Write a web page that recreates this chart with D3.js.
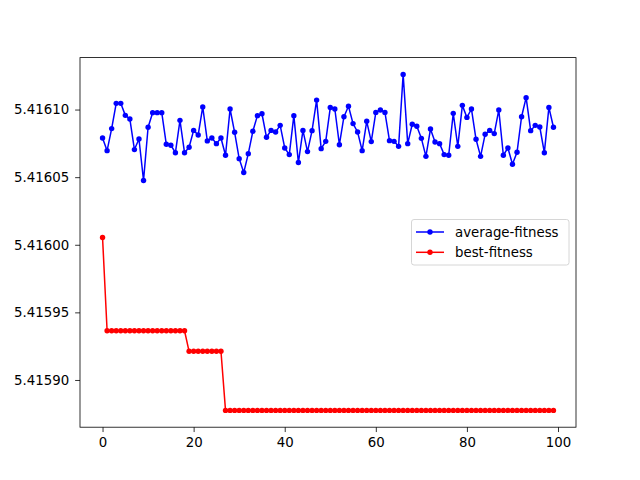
<!DOCTYPE html>
<html><head><meta charset="utf-8">
<script src="https://cdn.jsdelivr.net/npm/d3@7"></script>
<style>body{margin:0;background:#fff}svg{display:block}text{font-family:"DejaVu Sans",sans-serif;}</style>
</head><body>
<script>
const generations = d3.range(100);
const averageFitness = [
5.4160790,5.4160696,5.4160859,5.4161046,5.4161046,5.4160957,5.4160930,5.4160704,5.4160782,5.4160475,
5.4160869,5.4160977,5.4160977,5.4160977,5.4160743,5.4160736,5.4160681,5.4160920,5.4160681,5.4160721,
5.4160846,5.4160812,5.4161019,5.4160768,5.4160790,5.4160748,5.4160790,5.4160662,5.4161004,5.4160832,
5.4160637,5.4160534,5.4160674,5.4160839,5.4160955,5.4160969,5.4160795,5.4160846,5.4160834,5.4160883,
5.4160716,5.4160667,5.4160955,5.4160608,5.4160846,5.4160689,5.4160844,5.4161070,5.4160711,5.4160765,
5.4161015,5.4161004,5.4160740,5.4160947,5.4161024,5.4160896,5.4160834,5.4160696,5.4160913,5.4160763,
5.4160979,5.4160997,5.4160979,5.4160770,5.4160765,5.4160728,5.4161260,5.4160748,5.4160891,5.4160876,
5.4160787,5.4160654,5.4160856,5.4160760,5.4160748,5.4160667,5.4160662,5.4160972,5.4160728,5.4161031,
5.4160942,5.4161004,5.4160780,5.4160654,5.4160817,5.4160846,5.4160822,5.4160997,5.4160662,5.4160716,
5.4160595,5.4160684,5.4160947,5.4161088,5.4160844,5.4160883,5.4160871,5.4160681,5.4161016,5.4160869];
const bestFitness = [
5.4160054,5.4159364,5.4159364,5.4159364,5.4159364,5.4159364,5.4159364,5.4159364,5.4159364,5.4159364,
5.4159364,5.4159364,5.4159364,5.4159364,5.4159364,5.4159364,5.4159364,5.4159364,5.4159364,5.4159212,
5.4159212,5.4159212,5.4159212,5.4159212,5.4159212,5.4159212,5.4159212,5.4158775,5.4158775,5.4158775,
5.4158775,5.4158775,5.4158775,5.4158775,5.4158775,5.4158775,5.4158775,5.4158775,5.4158775,5.4158775,
5.4158775,5.4158775,5.4158775,5.4158775,5.4158775,5.4158775,5.4158775,5.4158775,5.4158775,5.4158775,
5.4158775,5.4158775,5.4158775,5.4158775,5.4158775,5.4158775,5.4158775,5.4158775,5.4158775,5.4158775,
5.4158775,5.4158775,5.4158775,5.4158775,5.4158775,5.4158775,5.4158775,5.4158775,5.4158775,5.4158775,
5.4158775,5.4158775,5.4158775,5.4158775,5.4158775,5.4158775,5.4158775,5.4158775,5.4158775,5.4158775,
5.4158775,5.4158775,5.4158775,5.4158775,5.4158775,5.4158775,5.4158775,5.4158775,5.4158775,5.4158775,
5.4158775,5.4158775,5.4158775,5.4158775,5.4158775,5.4158775,5.4158775,5.4158775,5.4158775,5.4158775];
const seriesNames = ["average-fitness", "best-fitness"];
const seriesColors = ["#0000ff", "#ff0000"];
const xTicks = [0, 20, 40, 60, 80, 100];
const yTicks = [5.41590, 5.41595, 5.41600, 5.41605, 5.41610];

const W = 640, H = 480;
const L = 80, R = 576, T = 57.6, B = 427.2;
const svg = d3.select("body").append("svg").attr("width", W).attr("height", H);

const xmin = 0, xmax = 99, xm = (xmax - xmin) * 0.05;
const x = d3.scaleLinear().domain([xmin - xm, xmax + xm]).range([L, R]);
const all = averageFitness.concat(bestFitness);
const ymin = d3.min(all), ymax = d3.max(all), ym = (ymax - ymin) * 0.05;
const y = d3.scaleLinear().domain([ymin - ym, ymax + ym]).range([B, T]);

const series = [averageFitness, bestFitness];
const line = d3.line().x((d, i) => x(generations[i])).y(d => y(d));
const plot = svg.append("g");
series.forEach((s, k) => {
  plot.append("path").attr("d", line(s)).attr("fill", "none")
    .attr("stroke", seriesColors[k]).attr("stroke-width", 1.5).attr("stroke-linejoin", "round");
  plot.selectAll(null).data(s).enter().append("circle")
    .attr("cx", (d, i) => x(generations[i])).attr("cy", d => y(d)).attr("r", 2.7)
    .attr("fill", seriesColors[k]);
});

// axes
const xAxis = d3.axisBottom(x).tickValues(xTicks).tickSize(4.86).tickPadding(5.5).tickFormat(d3.format("d"));
const gx = svg.append("g").attr("transform", `translate(0,${B})`).call(xAxis);
const yAxis = d3.axisLeft(y).tickValues(yTicks).tickSize(4.86).tickPadding(6).tickFormat(d3.format(".5f"));
const gy = svg.append("g").attr("transform", `translate(${L},0)`).call(yAxis);
[gx, gy].forEach(g => {
  g.select(".domain").remove();
  g.selectAll(".tick line").attr("stroke", "#000").attr("stroke-width", 0.8);
  g.selectAll(".tick text").attr("fill", "#000").style("font-size", "13.33px").style("font-family", "DejaVu Sans");
});

svg.append("rect").attr("x", L).attr("y", T).attr("width", R - L).attr("height", B - T)
  .attr("fill", "none").attr("stroke", "#000").attr("stroke-width", 0.8);

// legend
const lg = svg.append("g");
lg.append("rect").attr("x", 411.5).attr("y", 219.5).attr("width", 157.5).attr("height", 45.5).attr("rx", 2.5)
  .attr("fill", "#fff").attr("fill-opacity", 0.8).attr("stroke", "#cccccc").attr("stroke-width", 0.8);
seriesNames.forEach((n, k) => {
  const cy = 232 + k * 20.3;
  lg.append("line").attr("x1", 416).attr("x2", 444).attr("y1", cy).attr("y2", cy)
    .attr("stroke", seriesColors[k]).attr("stroke-width", 1.5);
  lg.append("circle").attr("cx", 430).attr("cy", cy).attr("r", 2.7).attr("fill", seriesColors[k]);
  lg.append("text").attr("x", 455).attr("y", cy).attr("dy", "0.35em").style("font-size", "13.33px").text(n);
});
</script>
</body></html>
